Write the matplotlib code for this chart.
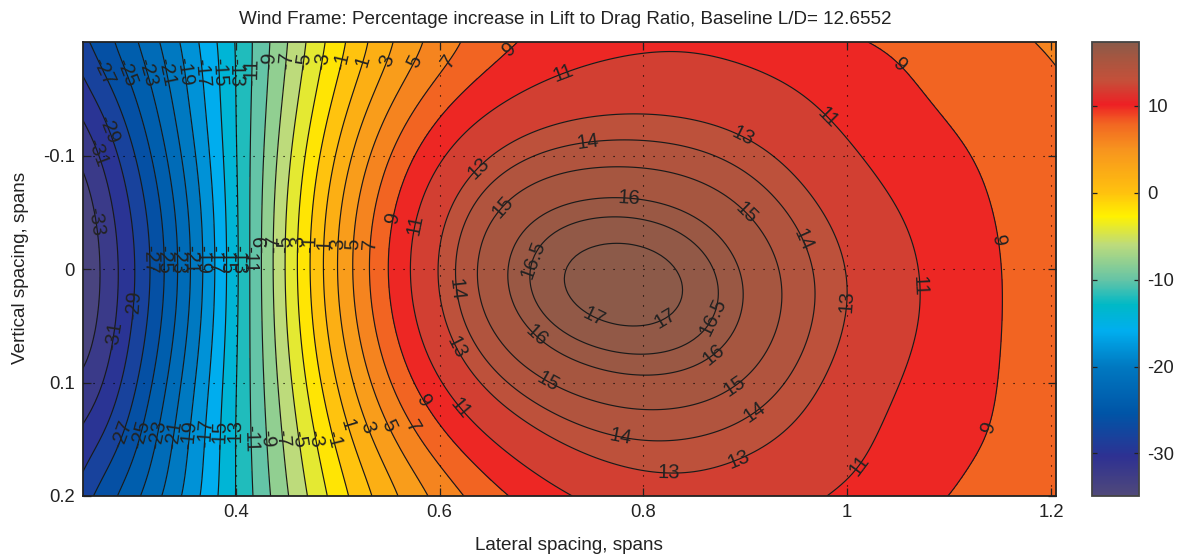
import numpy as np
import matplotlib
matplotlib.use("Agg")
import matplotlib.pyplot as plt
from matplotlib.colors import LinearSegmentedColormap, Normalize
from matplotlib.cm import ScalarMappable
from numpy.polynomial import chebyshev as C

plt.rcParams['font.family'] = ['Liberation Sans', 'DejaVu Sans']

# ---- data ----
lateral = [0.25, 0.30, 0.35, 0.40, 0.45, 0.50, 0.55, 0.60, 0.65, 0.70,
           0.75, 0.80, 0.85, 0.90, 0.95, 1.00, 1.05, 1.10, 1.15, 1.205]
vertical = [-0.2, -0.15, -0.1, -0.05, 0.0, 0.05, 0.1, 0.15, 0.2]

row_m20 = [-27.5, -23.4, -18.4, -13.0, -7.0, -1.8, 2.7, 5.9, 8.2, 9.6, 10.3, 10.75, 10.8, 10.5, 10.0, 9.3, 8.6, 8.05, 7.5, 6.6]
row_m15 = [-30.0, -25.2, -19.4, -13.0, -6.4, -0.6, 4.8, 8.1, 10.2, 11.8, 12.3, 12.55, 12.2, 11.8, 11.2, 10.4, 9.4, 8.7, 8.0, 7.3]
row_m10 = [-32.5, -27.2, -20.4, -13.3, -5.6, 1.2, 7.0, 10.4, 13.0, 14.1, 14.4, 14.65, 14.2, 13.5, 12.4, 11.4, 10.3, 9.3, 8.4, 7.6]
row_m05 = [-34.0, -28.6, -21.3, -13.4, -5.0, 2.7, 8.8, 12.3, 14.7, 16.0, 16.43, 16.4, 15.9, 14.9, 13.8, 12.4, 11.0, 9.9, 8.95, 7.9]
row_p00 = [-34.7, -29.2, -21.8, -13.5, -4.8, 2.9, 9.1, 13.0, 15.4, 16.72, 17.25, 17.25, 16.75, 15.8, 14.4, 12.95, 11.5, 10.2, 9.05, 8.0]
row_p05 = [-34.1, -28.7, -21.3, -13.4, -5.0, 2.5, 8.6, 12.7, 14.7, 16.2, 16.95, 17.05, 16.6, 15.8, 14.5, 13.0, 11.6, 10.2, 9.05, 8.0]
row_p10 = [-32.5, -27.4, -20.5, -13.1, -5.6, 1.0, 6.6, 11.1, 13.3, 14.9, 15.7, 15.7, 15.6, 15.0, 13.6, 12.2, 11.05, 10.0, 9.0, 7.85]
row_p15 = [-30.4, -25.6, -19.5, -13.0, -6.5, -0.5, 4.5, 8.2, 11.0, 12.6, 13.7, 14.0, 13.9, 13.5, 12.6, 11.6, 10.55, 9.6, 8.7, 7.75]
row_p20 = [-27.9, -23.6, -18.6, -13.0, -7.2, -2.0, 2.3, 5.7, 8.3, 10.1, 11.3, 12.5, 12.3, 12.1, 11.5, 10.7, 9.8, 8.95, 8.15, 7.35]

contour_levels = [-33, -31, -29, -27, -25, -23, -21, -19, -17, -15, -13, -11, -9, -7, -5,
                  -3, -1, 1, 3, 5, 7, 9, 11, 13, 14, 15, 16, 16.5, 17]
x_ticks = [0.4, 0.6, 0.8, 1.0, 1.2]
x_tick_labels = ['0.4', '0.6', '0.8', '1', '1.2']
y_ticks = [-0.1, 0.0, 0.1, 0.2]
y_tick_labels = ['-0.1', '0', '0.1', '0.2']
cbar_ticks = [-30, -20, -10, 0, 10]

title_text = 'Wind Frame: Percentage increase in Lift to Drag Ratio, Baseline L/D= 12.6552'
x_title = 'Lateral spacing, spans'
y_title = 'Vertical spacing, spans'

# rows of labels: (vertical position, levels labelled there, reached from the left)
label_rows = [
    (-0.174, [-27, -25, -23, -21, -19, -17, -15, -13, -11]),
    (-0.182, [-9, -7, -5, -3, -1, 1, 3, 5, 7]),
    (-0.0097, [-27, -25, -23, -21, -19, -17, -15, -13, -11]),
    (-0.021, [-9, -7, -5, -3, -1, 1, 3, 5, 7]),
    (0.145, [-27, -25, -23, -21, -19, -17, -15, -13]),
    (0.150, [-11, -9, -7, -5, -3, -1]),
    (0.138, [1, 3, 5, 7]),
]
# separate labels: level, near x, near y
label_spots = [
    (9, .6696, -.193), (11, .7196, -.175), (9, 1.052, -.180), (11, .985, -.138),
    (13, .897, -.120), (14, .745, -.118), (13, .638, -.092), (15, .66, -.056),
    (16, .787, -.063), (15, .897, -.048), (14, .951, -.023), (9, .552, -.045),
    (11, .574, -.039), (9, 1.15, -.026), (16.5, .694, -.006), (14, .616, .0185),
    (11, 1.072, .016), (13, 1.0, .027), (16.5, .862, .0405), (17, .75, .045),
    (17, .819, .039), (13, .619, .069), (16, .694, .06), (16, .869, .073),
    (15, .707, .10), (15, .89, .108), (9, .586, .115), (11, .621, .122),
    (14, .775, .151), (14, .912, .131), (9, 1.135, .137), (13, .895, .171),
    (13, .824, .182), (11, 1.01, .174), (-29, .2755, -.1225), (-31, .2647, -.103),
    (-33, .2627, -.041), (-29, .302, .032), (-31, .2804, .058),
]

# ---- colour scale ----
v_min, v_max = -34.9, 17.35
colour_stops = [(-34.9, '#50497a'), (-30.4, '#2e3192'), (-25.5, '#0054a6'), (-20, '#0079c1'),
                (-15.9, '#00aeef'), (-12.9, '#00b9c6'), (-10, '#66c4a6'), (-6, '#bcdb7c'),
                (-2.7, '#fff200'), (0, '#ffc20e'), (5, '#f7941e'), (8, '#f26522'),
                (10.2, '#ed2024'), (13, '#c4503a'), (15.5, '#a65640'), (17.35, '#8b5a4a')]
cmap = LinearSegmentedColormap.from_list(
    'wind', [((v - v_min) / (v_max - v_min), c) for v, c in colour_stops], N=512)
norm = Normalize(v_min, v_max)

# ---- carry the read table on to a smooth drawing grid (hand reading noise is evened out) ----
Z = np.array([row_m20, row_m15, row_m10, row_m05, row_p00, row_p05, row_p10, row_p15, row_p20])
x_read, y_read = np.array(lateral), np.array(vertical)
xf = np.linspace(x_read[0], x_read[-1], 240)
yf = np.linspace(y_read[0], y_read[-1], 120)
ux = lambda v: 2 * (v - x_read[0]) / (x_read[-1] - x_read[0]) - 1
uy = lambda v: 2 * (v - y_read[0]) / (y_read[-1] - y_read[0]) - 1
coef_x = C.chebfit(ux(x_read), Z.T, 10)            # along x, one fit per row
Zx = C.chebval(ux(xf), coef_x)
if Zx.shape[0] != len(vertical):
    Zx = Zx.T
coef_y = C.chebfit(uy(y_read), Zx, 6)              # along y
Zf = C.chebval(uy(yf), coef_y, tensor=True)
if Zf.shape != (len(yf), len(xf)):
    Zf = Zf.T

# ---- figure ----
W, H = 1183, 560
fig = plt.figure(figsize=(W / 100, H / 100), dpi=100)
ax = fig.add_axes([83 / W, 1 - 496 / H, (1056 - 83) / W, (496 - 42) / H])
fill_levels = [min(v_min, Zf.min() - 0.01)] + contour_levels + [max(v_max, Zf.max() + 0.01)]
ax.contourf(xf, yf, Zf, levels=fill_levels, cmap=cmap, norm=norm)
cs = ax.contour(xf, yf, Zf, levels=contour_levels, colors='#1a1a1a', linewidths=0.85,
                linestyles='solid')
ax.set_xlim(0.25, 1.205)
ax.set_ylim(0.2, -0.2)
ax.set_xticks(x_ticks, x_tick_labels)
ax.set_yticks(y_ticks, y_tick_labels)
ax.tick_params(direction='in', top=True, right=True, length=6, width=0.9, labelsize=13.3,
               color='#222222', labelcolor='#222222', pad=6)
ax.grid(True, linestyle=(0, (1, 8)), color='black', linewidth=0.8)
ax.set_axisbelow(False)
for s in ax.spines.values():
    s.set_linewidth(1.3)
    s.set_color('#222222')
fig.text(565 / W, 1 - 19 / H, title_text, ha='center', va='center', fontsize=13.6, color='#222222')
fig.text(569 / W, 1 - 545 / H, x_title, ha='center', va='center', fontsize=13.6, color='#222222')
fig.text(21 / W, 1 - 268 / H, y_title, ha='center', va='center', rotation=90, fontsize=13.6, color='#222222')

fig.canvas.draw()
to_px = ax.transData.transform


def put_label(level, x, y):
    idx = contour_levels.index(level)
    target = to_px((x, y))
    path = cs.get_paths()[idx]
    if len(path.vertices) == 0:
        return
    starts = np.flatnonzero(path.codes == 1).tolist() + [len(path.vertices)]
    best = None
    for a0, a1 in zip(starts[:-1], starts[1:]):
        poly = path.vertices[a0:a1]
        if len(poly) < 3:
            continue
        p = to_px(poly)
        d = np.hypot(*(p - target).T)
        i = int(np.argmin(d))
        if best is None or d[i] < best[0]:
            a = p[max(i - 3, 0)]
            b = p[min(i + 3, len(p) - 1)]
            best = (d[i], poly[i], b - a)
    if best is None:
        return
    ang = np.degrees(np.arctan2(best[2][1], best[2][0]))
    ang = (ang + 90) % 180 - 90
    ax.text(best[1][0], best[1][1], f'{level:g}', rotation=ang, rotation_mode='anchor',
            ha='center', va='center', fontsize=14.5, color='#222222', clip_on=True)


for y0, levs in label_rows:
    j = int(np.argmin(np.abs(yf - y0)))
    mask = xf < 0.7
    for lv in levs:
        x0 = xf[mask][int(np.argmin(np.abs(Zf[j, mask] - lv)))]
        put_label(lv, x0, y0)
for lv, x0, y0 in label_spots:
    put_label(lv, x0, y0)

# colour bar
cax = fig.add_axes([1092 / W, 1 - 496 / H, (1139 - 1092) / W, (496 - 42) / H])
cb = fig.colorbar(ScalarMappable(norm=norm, cmap=cmap), cax=cax, ticks=cbar_ticks)
cb.ax.set_yticklabels([str(t) for t in cbar_ticks])
cb.ax.tick_params(direction='in', left=True, right=True, length=3.5, width=0.9, labelsize=13.3,
                  color='#222222', labelcolor='#222222', pad=6)
cb.outline.set_linewidth(1.3)
cb.outline.set_edgecolor('#444444')

fig.savefig('out.png', dpi=100)
